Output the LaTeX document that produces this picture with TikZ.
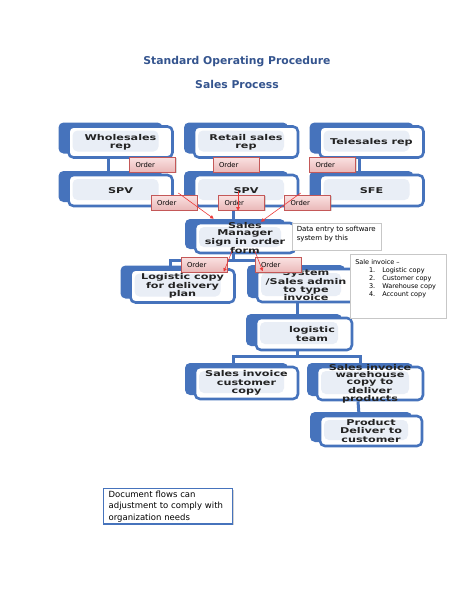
\documentclass[tikz,border=0pt]{standalone}
\usepackage{fontspec}
\setmainfont{DejaVu Sans}
\setsansfont{DejaVu Sans}
\newfontfamily\boxfont{DejaVu Sans}[FakeStretch=1.4]
\usetikzlibrary{calc,shadows,arrows.meta,backgrounds}

\definecolor{sopblue}{RGB}{70,115,188}
\definecolor{soptitle}{RGB}{52,84,142}
\definecolor{sopinner}{RGB}{233,238,246}
\definecolor{ordertop}{RGB}{250,226,226}
\definecolor{orderbot}{RGB}{234,184,184}
\definecolor{orderline}{RGB}{196,88,88}
\definecolor{redline}{RGB}{236,58,58}
\definecolor{boxink}{RGB}{35,35,35}

\tikzset{
  sopbox/.style={draw=sopblue, line width=2.6pt, rounded corners=5pt, fill=white,
    minimum width=104pt, minimum height=31pt, inner sep=0pt,
    general shadow={fill=sopblue, shadow xshift=-10pt, shadow yshift=4pt},
    path picture={\fill[sopinner] ([xshift=4pt,yshift=6pt]path picture bounding box.south west)
      rectangle ([xshift=-14pt,yshift=-4pt]path picture bounding box.north east);}},
  boxtxt/.style={font=\boxfont\bfseries\fontsize{8}{8.3}\selectfont, text=boxink,
    align=center, inner sep=0pt},
  tighttxt/.style={boxtxt, font=\boxfont\bfseries\fontsize{8}{7.5}\selectfont},
  ordertag/.style={draw=orderline, line width=0.7pt, top color=ordertop, bottom color=orderbot,
    drop shadow={shadow xshift=1pt, shadow yshift=-1pt, opacity=0.3},
    minimum height=15pt, text width=34pt, inner xsep=6pt, inner ysep=0pt, align=left,
    font=\fontsize{6.8}{8}\selectfont},
  redarrow/.style={draw=redline, line width=0.6pt, -{Triangle[length=3.5pt,width=3.5pt]}},
  tree/.style={draw=sopblue, line width=3pt},
  notebox/.style={draw=black!22, line width=0.6pt, fill=white, anchor=north west,
    drop shadow={shadow xshift=1pt, shadow yshift=-1pt, opacity=0.2},
    inner sep=5pt, font=\fontsize{7}{9}\selectfont}
}

\begin{document}
\begin{tikzpicture}[x=1pt,y=-1pt]
  \useasboundingbox (0,0) rectangle (474,613);

  % title
  \node[font=\bfseries\fontsize{10.8}{13}\selectfont, text=soptitle] (title) at (237,62) {Standard Operating Procedure};
  \node[font=\bfseries\fontsize{10.8}{13}\selectfont, text=soptitle] (subtitle) at (237,84) {Sales Process};

  % first two rows
  \node[sopbox, label={[boxtxt]center:{Wholesales\\rep}}] (whole) at (120.5,142) {};
  \node[sopbox, label={[boxtxt]center:{Retail sales\\rep}}] (retail) at (246,142) {};
  \node[sopbox, label={[boxtxt]center:{Telesales rep}}] (tele) at (371.5,142) {};
  \node[sopbox, label={[boxtxt]center:{SPV}}] (spv1) at (120.5,190.5) {};
  \node[sopbox, label={[boxtxt]center:{SPV}}] (spv2) at (246,190.5) {};
  \node[sopbox, label={[boxtxt]center:{SFE}}] (sfe) at (371.5,190.5) {};

  % manager and after
  \node[sopbox, minimum width=100pt, minimum height=30pt,
    label={[tighttxt]center:{Sales\\Manager\\sign in order\\form}}] (mgr) at (245,238) {};
  \node[sopbox, minimum height=33pt,
    label={[boxtxt]center:{Logistic copy\\for delivery\\plan}}] (logcopy) at (182.5,286) {};
  \node[sopbox, minimum width=98pt, minimum height=33pt,
    label={[tighttxt]center:{System\\/Sales admin\\to type\\invoice}}] (sys) at (306,285.5) {};
  \node[sopbox, minimum width=96pt, minimum height=32pt,
    label={[boxtxt, xshift=8pt]center:{logistic\\team}}] (team) at (304,334) {};
  \node[sopbox, minimum width=103pt, minimum height=32pt,
    label={[boxtxt]center:{Sales invoice\\customer\\copy}}] (custcopy) at (246.5,383) {};
  \node[sopbox, minimum width=106pt, minimum height=33pt,
    label={[tighttxt, font=\boxfont\bfseries\fontsize{8}{7.3}\selectfont]center:{Sales invoice\\warehouse\\copy to\\deliver\\products}}] (whinv) at (370,383.5) {};
  \node[sopbox, minimum width=102pt, minimum height=30pt,
    label={[boxtxt]center:{Product\\Deliver to\\customer}}] (product) at (371,431) {};

  % tree lines behind the boxes
  \begin{scope}[on background layer]
    \draw[tree] ($(whole.south)+(-12,0)$) -- ($(spv1.north)+(-12,0)$);
    \draw[tree] ($(retail.south)+(-12,0)$) -- ($(spv2.north)+(-12,0)$);
    \draw[tree] ($(tele.south)+(-12,0)$) -- ($(sfe.north)+(-12,0)$);
    \draw[tree] ($(spv2.south)+(-13,0)$) -- ($(mgr.north)+(-12,0)$);
    \draw[tree] ($(mgr.south)+(-12,0)$) -- ++(0,6) -| ($(logcopy.north)+(-12,0)$);
    \draw[tree] ($(mgr.south)+(-12,6)$) -| ($(sys.north)+(-12,0)$);
    \draw[tree] ($(sys.south)+(-9,0)$) -- ($(team.north)+(-7,0)$);
    \draw[tree] ($(team.south)+(-7,0)$) -- ++(0,5) -| ($(custcopy.north)+(-13.5,0)$);
    \draw[tree] ($(team.south)+(-7,5)$) -| ($(whinv.north)+(-10,0)$);
    \draw[tree] ($(whinv.south)+(-12,0)$) -- ($(product.north)+(-12,0)$);
  \end{scope}

  % side notes
  \node[notebox, minimum width=89pt, inner sep=3pt] (dataentry) at (292,223)
    {\parbox[c][21pt][t]{80pt}{Data entry to software\\system by this}};
  \node[notebox, font=\fontsize{6.5}{8}\selectfont] (saleinv) at (350,254)
    {\parbox[c][54pt][t]{86pt}{Sale invoice --\\
      \hspace*{14pt}\makebox[6pt][r]{1.}\hspace{7pt}Logistic copy\\
      \hspace*{14pt}\makebox[6pt][r]{2.}\hspace{7pt}Customer copy\\
      \hspace*{14pt}\makebox[6pt][r]{3.}\hspace{7pt}Warehouse copy\\
      \hspace*{14pt}\makebox[6pt][r]{4.}\hspace{7pt}Account copy}};

  % order tags
  \node[ordertag] (o1) at (152.5,164.5) {Order};
  \node[ordertag] (o2) at (236,164.5) {Order};
  \node[ordertag] (o3) at (332.5,164.5) {Order};
  \node[ordertag] (o4) at (174,202.5) {Order};
  \node[ordertag] (o5) at (241.5,202.5) {Order};
  \node[ordertag] (o6) at (307.5,202.5) {Order};
  \node[ordertag] (o7) at (204,264.5) {Order};
  \node[ordertag] (o8) at (278,265) {Order};

  % red arrows
  \draw[redarrow] ($(spv1.east)+(4.5,2.5)$) -- ($(mgr.north west)+(20,-3)$);
  \draw[redarrow] ($(spv2.center)+(-8,0)$) -- ($(mgr.north)+(-7,-11)$);
  \draw[redarrow] ($(sfe.west)+(-17.5,2.5)$) -- ($(mgr.north)+(16,0)$);
  \draw[redarrow] ($(mgr.south)+(-13,-3)$) -- ($(logcopy.north east)+(-12,3.5)$);
  \draw[redarrow] ($(mgr.south)+(10,-3)$) -- ($(sys.north west)+(7,3.5)$);

  % bottom note
  \node[draw=sopblue, line width=1.3pt, fill=white, anchor=north west,
    drop shadow={shadow xshift=1.5pt, shadow yshift=-1.5pt, opacity=0.35},
    inner xsep=5pt, inner ysep=2pt, text width=119pt, align=left,
    font=\fontsize{8.5}{11.5}\selectfont] (docnote) at (103,488)
    {Document flows can\\adjustment to comply with\\organization needs};
\end{tikzpicture}
\end{document}
